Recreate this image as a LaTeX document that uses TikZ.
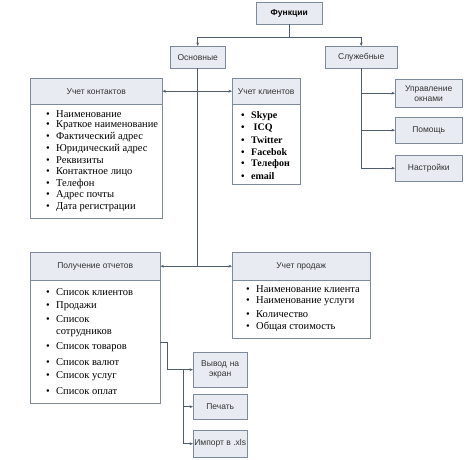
\documentclass[tikz,border=0pt]{standalone}
\usepackage{fontspec}
\setmainfont{Liberation Serif}
\newfontfamily\hsans{Liberation Sans}
\usetikzlibrary{arrows.meta,calc}
\definecolor{bord}{HTML}{7D8A9A}
\definecolor{hfill}{HTML}{E8ECF2}
\definecolor{wire}{HTML}{4F5D6C}
\tikzset{
  hdr/.style={draw=bord, fill=hfill, font=\hsans\fontsize{8.5}{10}\selectfont, text=black!80, inner sep=0pt, anchor=north west, align=center},
  bodybox/.style={draw=bord, fill=white, inner sep=0pt, anchor=north west},
  item/.style={anchor=west, font=\fontsize{10.5}{11}\selectfont, inner sep=0pt},
  itemb/.style={item, font=\bfseries\fontsize{10}{11}\selectfont},
  wireline/.style={draw=wire, line width=0.6pt},
  arr/.style={wireline, -{Stealth[length=3.5pt,width=2.8pt]}},
}
\newcommand{\bul}{\makebox[10pt][l]{\textbullet}}
\begin{document}
\begin{tikzpicture}[x=1pt,y=-1pt]
\useasboundingbox (0,0) rectangle (466,460);

% top level
\node[hdr, minimum width=66pt, minimum height=22pt, font=\hsans\bfseries\fontsize{8.5}{10}\selectfont, text=black] (f) at (256,2) {Функции};
\node[hdr, minimum width=55pt, minimum height=22pt] (o) at (170,46) {Основные};
\node[hdr, minimum width=72pt, minimum height=22pt] (s) at (325,46) {Служебные};

% Учет контактов
\node[hdr, minimum width=132pt, minimum height=26pt] (kh) at (30,78) {Учет контактов};
\node[bodybox, minimum width=132pt, minimum height=114pt] (kb) at (30,104) {};
\foreach \t [count=\i] in {Наименование,Краткое наименование,Фактический адрес,Юридический адрес,Реквизиты,Контактное лицо,Телефон,Адрес почты,Дата регистрации}
  \node[item] (k\i) at (46,{114+11.6*(\i-1)}) {\bul\t};

% Учет клиентов
\node[hdr, minimum width=68pt, minimum height=26pt] (ch) at (232,78) {Учет клиентов};
\node[bodybox, minimum width=68pt, minimum height=80pt] (cb) at (232,104) {};
\foreach \t [count=\i] in {Skype,{\ ICQ},Twitter,Facebok,Телефон,email}
  \node[itemb] (c\i) at (241,{116+12*(\i-1)}) {\bul\t};

% Служебные branch
\node[hdr, minimum width=67pt, minimum height=28pt, text width=64pt] (u) at (395,79) {Управление\\окнами};
\node[hdr, minimum width=67pt, minimum height=26pt] (p) at (395,117) {Помощь};
\node[hdr, minimum width=67pt, minimum height=26pt] (n) at (395,155) {Настройки};

% Получение отчетов
\node[hdr, minimum width=130pt, minimum height=28pt] (rh) at (30,252) {Получение отчетов};
\node[bodybox, minimum width=130pt, minimum height=123pt] (rb) at (30,280) {};
\node[item] (r1) at (46,292) {\bul Список клиентов};
\node[item] (r2) at (46,306) {\bul Продажи};
\node[item] (r3) at (46,319) {\bul Список};
\node[item] (r3b) at (56,333) {сотрудников};
\node[item] (r4) at (46,347) {\bul Список товаров};
\node[item] (r5) at (46,362) {\bul Список валют};
\node[item] (r6) at (46,376) {\bul Список услуг};
\node[item] (r7) at (46,391) {\bul Список оплат};

% Учет продаж
\node[hdr, minimum width=138pt, minimum height=28pt] (sh) at (232,252) {Учет продаж};
\node[bodybox, minimum width=138pt, minimum height=58pt] (sb) at (232,280) {};
\foreach \t [count=\i] in {Наименование клиента,Наименование услуги,Количество,Общая стоимость}
  \node[item] (sp\i) at (246,{289+12.5*(\i-1)}) {\bul\t};

% output boxes
\node[hdr, minimum width=54pt, minimum height=35pt, text width=50pt] (v) at (193,352) {Вывод на\\экран};
\node[hdr, minimum width=54pt, minimum height=25pt] (pe) at (193,394) {Печать};
\node[hdr, minimum width=54pt, minimum height=27pt] (im) at (193,430) {Импорт в .xls};

% connectors
\coordinate (ytop) at (0,37);
\draw[wireline] (f.south) -- (f.south |- ytop);
\draw[arr] (f.south |- ytop) -| (o.north);
\draw[arr] (f.south |- ytop) -| (s.north);

\draw[wireline] (o.south) -- (o.south |- rh.east);
\draw[arr] (o.south |- kh.east) -- (kh.east);
\draw[arr] (o.south |- kh.east) -- (ch.west);
\draw[arr] (o.south |- rh.east) -- (rh.east);
\draw[arr] (o.south |- rh.east) -- (sh.west);

\draw[wireline] (s.south) -- (s.south |- n.west);
\draw[arr] (s.south |- u.west) -- (u.west);
\draw[arr] (s.south |- p.west) -- (p.west);
\draw[arr] (s.south |- n.west) -- (n.west);

\coordinate (y342) at (0,342);
\coordinate (rout) at (rb.east |- y342);
\draw[arr] (rout) -- ++(7,0) |- (v.west);
\coordinate (vj) at ($(v.west)+(-10,0)$);
\draw[wireline] (vj) -- (vj |- im.west);
\draw[arr] (vj |- pe.west) -- (pe.west);
\draw[arr] (vj |- im.west) -- (im.west);
\end{tikzpicture}
\end{document}
